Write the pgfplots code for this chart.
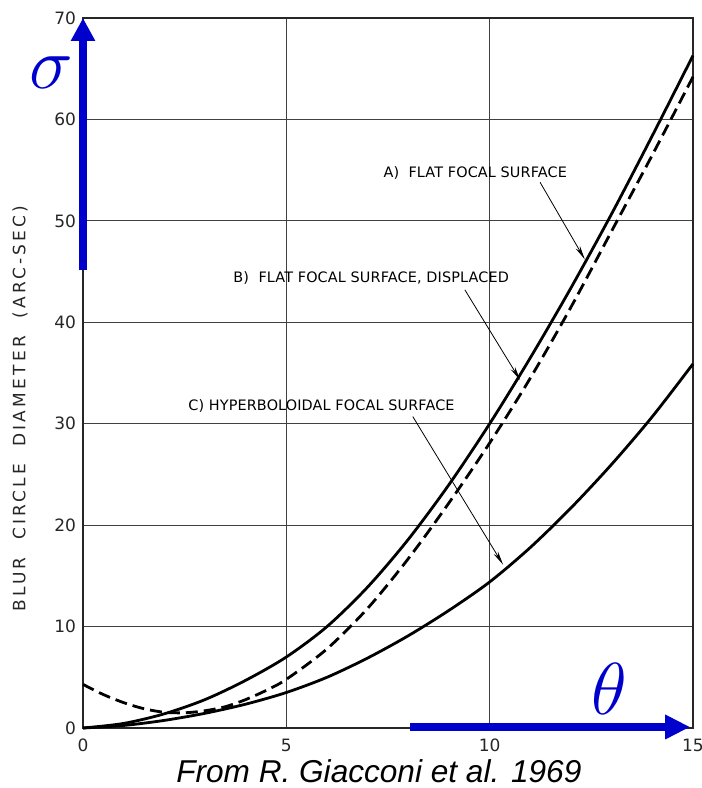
\documentclass[border=0pt]{standalone}
\usepackage{pgfplots}
\pgfplotsset{compat=1.18}
\usepackage{pgfplotstable}
\usepackage{fontspec}
\setmainfont{Liberation Sans}
\newfontfamily\lettering{DejaVu Sans}
\newfontfamily\letteringwide{DejaVu Sans}[LetterSpace=19]
\newfontfamily\letteringann{DejaVu Sans}[LetterSpace=1]
\usetikzlibrary{arrows.meta}
\definecolor{myblue}{RGB}{0,0,205}

\pgfplotstableread{
x y
0 0
1 0.45
2 1.4
3 2.8
4 4.7
5 7.0
6 10.0
7 13.9
8 18.6
9 24.0
10 30.0
11 36.5
12 43.4
13 50.7
14 58.4
15 66.3
}\curveA

\pgfplotstableread{
x y
0 4.3
0.5 3.3
1 2.5
1.5 1.9
2 1.55
2.5 1.5
3 1.7
3.5 2.1
4 2.8
4.5 3.7
5 4.8
6 7.8
7 11.8
8 16.7
9 22.2
10 28.1
11 34.5
12 41.5
13 49.0
14 56.5
15 64.2
}\curveB

\pgfplotstableread{
x y
0 0
1 0.25
2 0.75
3 1.45
4 2.35
5 3.5
6 5.0
7 6.9
8 9.1
9 11.6
10 14.4
11 17.8
12 21.7
13 26.0
14 30.7
15 35.9
}\curveC

\begin{document}
\begin{tikzpicture}
\begin{axis}[
  scale only axis, width=305pt, height=355pt,
  xmin=0, xmax=15, ymin=0, ymax=70,
  xtick={0,5,10,15}, ytick={0,10,...,70},
  grid=major, major grid style={line width=0.5pt, black!75},
  axis line style={line width=0.6pt, black!85},
  major tick length=0pt,
  tick label style={font=\lettering\fontsize{8.5}{9}\selectfont, black!85},
  xticklabel style={yshift=-2pt},
  /pgf/number format/assume math mode=true,
  clip=false,
]
\coordinate (sw) at (rel axis cs:0,0);
\coordinate (ne) at (rel axis cs:1,1);

\addplot[black, line width=1.4pt, smooth] table {\curveA};
\addplot[black, line width=1.4pt, smooth, dash pattern=on 6pt off 3pt] table {\curveB};
\addplot[black, line width=1.4pt, smooth] table {\curveC};

% annotations
\node[font=\letteringann\fontsize{7.2}{7.5}\selectfont, anchor=west, inner sep=0pt] at (axis cs:7.38,54.7) {A)\ \ FLAT FOCAL SURFACE};
\node[font=\letteringann\fontsize{7.2}{7.5}\selectfont, anchor=west, inner sep=0pt] at (axis cs:3.69,44.4) {B)\ \ FLAT FOCAL SURFACE, DISPLACED};
\node[font=\letteringann\fontsize{7.2}{7.5}\selectfont, anchor=west, inner sep=0pt] at (axis cs:2.58,31.7) {C)\ HYPERBOLOIDAL FOCAL SURFACE};
\draw[line width=0.4pt, -{Stealth[length=7pt,width=2.5pt]}] (axis cs:11.24,53.8) -- (axis cs:12.34,46.2);
\draw[line width=0.4pt, -{Stealth[length=7pt,width=2.5pt]}] (axis cs:9.39,43.2) -- (axis cs:10.75,34.3);
\draw[line width=0.4pt, -{Stealth[length=7pt,width=2.5pt]}] (axis cs:8.11,30.7) -- (axis cs:10.33,16.1);

% y label
\node[rotate=90, anchor=center, font=\letteringwide\fontsize{8.5}{9}\selectfont, black!85]
  at (axis description cs:-0.103,0.45) {BLUR\ \ CIRCLE\ \ DIAMETER\ \ (ARC-SEC)};

% blue arrows
\draw[myblue, line width=3.8pt, -{Triangle[length=11.5pt,width=11.5pt]}] (axis cs:0,45.2) -- (axis cs:0,70);
\draw[myblue, line width=4.4pt, -{Triangle[length=12.5pt,width=11.5pt]}] (axis cs:8.04,0.1) -- (axis cs:14.93,0.1);
\node[myblue, font=\fontsize{24.88}{25}\selectfont, inner sep=0pt, scale=1.48] at (axis cs:-0.79,64.6) {$\sigma$};
\node[myblue, font=\fontsize{24.88}{25}\selectfont, inner sep=0pt, scale=1.48] at (axis cs:12.93,3.85) {$\theta$};

% caption
\node[font=\itshape\fontsize{15.8}{16}\selectfont, anchor=base] at ([yshift=-27pt]rel axis cs:0.485,0) {From R. Giacconi et al. 1969};
\end{axis}
\pgfresetboundingbox
\path ([xshift=-41.5pt,yshift=-30pt]sw) rectangle ([xshift=4.5pt,yshift=9pt]ne);
\end{tikzpicture}
\end{document}
